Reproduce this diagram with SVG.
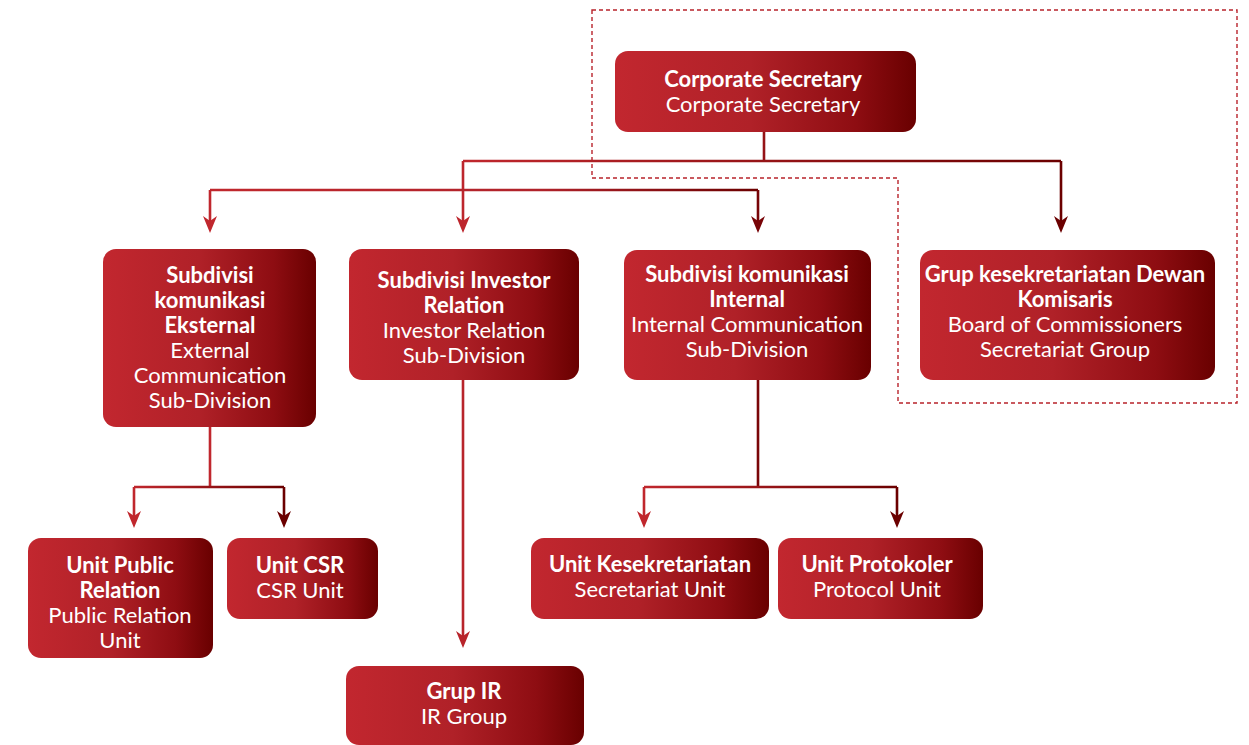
<svg xmlns="http://www.w3.org/2000/svg" width="1249" height="745" viewBox="0 0 1249 745">
<defs>
<linearGradient id="box" x1="0" y1="0" x2="1" y2="0">
<stop offset="0" stop-color="#c2272f"/>
<stop offset="0.45" stop-color="#b02128"/>
<stop offset="0.8" stop-color="#8e0d12"/>
<stop offset="1" stop-color="#690000"/>
</linearGradient>
<linearGradient id="g1" gradientUnits="userSpaceOnUse" x1="463" y1="0" x2="1061" y2="0">
<stop offset="0" stop-color="#c0272d"/><stop offset="1" stop-color="#6b0000"/>
</linearGradient>
<linearGradient id="g2" gradientUnits="userSpaceOnUse" x1="210" y1="0" x2="758" y2="0">
<stop offset="0" stop-color="#c0272d"/><stop offset="0.6" stop-color="#b0222a"/><stop offset="1" stop-color="#6b0000"/>
</linearGradient>
<linearGradient id="g3" gradientUnits="userSpaceOnUse" x1="134" y1="0" x2="284" y2="0">
<stop offset="0" stop-color="#c0272d"/><stop offset="1" stop-color="#6b0000"/>
</linearGradient>
<linearGradient id="g4" gradientUnits="userSpaceOnUse" x1="644" y1="0" x2="897" y2="0">
<stop offset="0" stop-color="#c0272d"/><stop offset="1" stop-color="#6b0000"/>
</linearGradient>
<path id="ah" d="M0,0 L-7,-17 L0,-12 L7,-17 Z"/>
</defs>
<style>
.node rect{fill:url(#box)}
.node text{font-family:Lato,"Open Sans","Liberation Sans",sans-serif;font-size:22px;fill:#fff;text-anchor:middle}
.b{font-weight:700}
.conn path.l{fill:none;stroke-width:2.6}
.dash{fill:none;stroke:#b8232b;stroke-width:1.4;stroke-dasharray:4 3}
</style>
<rect width="1249" height="745" fill="#fff"/>
<path class="dash" d="M592,10 H1237 V403 H898 V178 H592 Z"/>
<g id="connectors" class="conn">
<path class="l" stroke="url(#g1)" d="M764,132 V161 M463,161 H1061 M1061,161 V222"/>
<path class="l" stroke="#bd262d" d="M463,161 V222"/>
<path class="l" stroke="url(#g2)" d="M210,190 H758"/>
<path class="l" stroke="#c0272d" d="M210,190 V222"/>
<path class="l" stroke="#780407" d="M758,190 V222"/>
<path class="l" stroke="#c0272d" d="M210,427 V487"/>
<path class="l" stroke="url(#g3)" d="M134,487 H284"/>
<path class="l" stroke="#c0272d" d="M134,487 V517"/>
<path class="l" stroke="#6b0000" d="M284,487 V517"/>
<path class="l" stroke="#b8242b" d="M463,380 V637"/>
<path class="l" stroke="#7a0508" d="M758,380 V487"/>
<path class="l" stroke="url(#g4)" d="M644,487 H897"/>
<path class="l" stroke="#c0272d" d="M644,487 V517"/>
<path class="l" stroke="#6b0000" d="M897,487 V517"/>
<use href="#ah" x="210" y="233" fill="#c0272d"/>
<use href="#ah" x="463" y="233" fill="#bd262d"/>
<use href="#ah" x="758" y="233" fill="#780407"/>
<use href="#ah" x="1061" y="233" fill="#6b0000"/>
<use href="#ah" x="134" y="528" fill="#c0272d"/>
<use href="#ah" x="284" y="528" fill="#6b0000"/>
<use href="#ah" x="463" y="648" fill="#b8242b"/>
<use href="#ah" x="644" y="528" fill="#c0272d"/>
<use href="#ah" x="897" y="528" fill="#6b0000"/>
</g>
<g id="n-corpsec" class="node">
<rect x="615" y="51" width="301" height="81" rx="13"/>
<text x="763" y="87" class="b">Corporate Secretary</text>
<text x="763" y="112">Corporate Secretary</text>
</g>
<g id="n-eksternal" class="node">
<rect x="103" y="249" width="213" height="178" rx="13"/>
<text x="210" y="283" class="b">Subdivisi</text>
<text x="210" y="308" class="b">komunikasi</text>
<text x="210" y="333" class="b">Eksternal</text>
<text x="210" y="358">External</text>
<text x="210" y="383">Communication</text>
<text x="210" y="408">Sub-Division</text>
</g>
<g id="n-investor" class="node">
<rect x="349" y="249" width="230" height="131" rx="13"/>
<text x="464" y="288" class="b">Subdivisi Investor</text>
<text x="464" y="313" class="b">Relation</text>
<text x="464" y="338">Investor Relation</text>
<text x="464" y="363">Sub-Division</text>
</g>
<g id="n-internal" class="node">
<rect x="624" y="250" width="247" height="130" rx="13"/>
<text x="747" y="282" class="b">Subdivisi komunikasi</text>
<text x="747" y="307" class="b">Internal</text>
<text x="747" y="332">Internal Communication</text>
<text x="747" y="357">Sub-Division</text>
</g>
<g id="n-dekom" class="node">
<rect x="920" y="250" width="295" height="130" rx="13"/>
<text x="1065" y="282" class="b">Grup kesekretariatan Dewan</text>
<text x="1065" y="307" class="b">Komisaris</text>
<text x="1065" y="332">Board of Commissioners</text>
<text x="1065" y="357">Secretariat Group</text>
</g>
<g id="n-pr" class="node">
<rect x="28" y="538" width="185" height="120" rx="13"/>
<text x="120" y="573" class="b">Unit Public</text>
<text x="120" y="598" class="b">Relation</text>
<text x="120" y="623">Public Relation</text>
<text x="120" y="648">Unit</text>
</g>
<g id="n-csr" class="node">
<rect x="227" y="538" width="151" height="81" rx="13"/>
<text x="300" y="573" class="b">Unit CSR</text>
<text x="300" y="598">CSR Unit</text>
</g>
<g id="n-ir" class="node">
<rect x="346" y="666" width="238" height="79" rx="13"/>
<text x="464" y="699" class="b">Grup IR</text>
<text x="464" y="724">IR Group</text>
</g>
<g id="n-sekretariat" class="node">
<rect x="531" y="538" width="238" height="81" rx="13"/>
<text x="650" y="572" class="b">Unit Kesekretariatan</text>
<text x="650" y="597">Secretariat Unit</text>
</g>
<g id="n-protokol" class="node">
<rect x="778" y="538" width="205" height="81" rx="13"/>
<text x="877" y="572" class="b">Unit Protokoler</text>
<text x="877" y="597">Protocol Unit</text>
</g>
</svg>
